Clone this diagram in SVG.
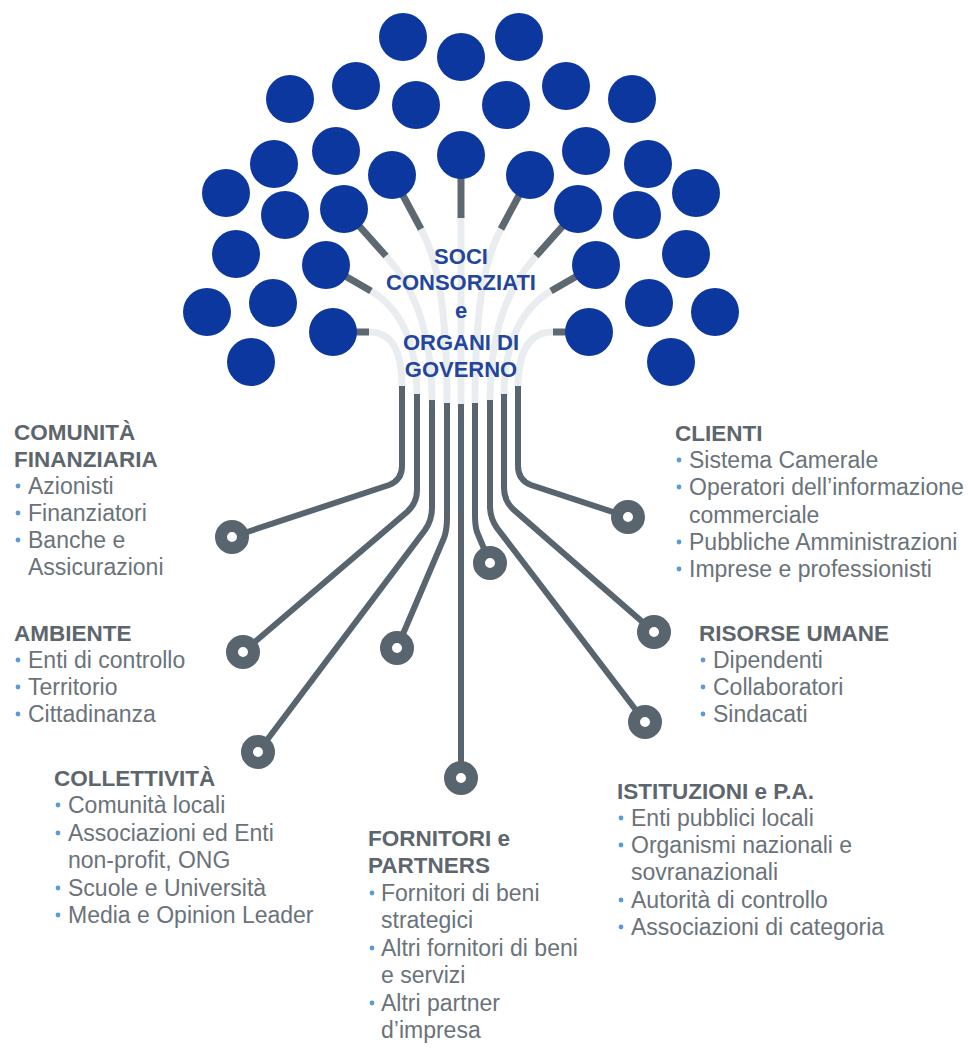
<svg xmlns="http://www.w3.org/2000/svg" width="968" height="1048" viewBox="0 0 968 1048">
<style>
.bg{fill:#ffffff}
.leaf{fill:#0b379e}
.light{fill:none;stroke:#eaedf0;stroke-width:7}
.stem{fill:none;stroke:#5d6871;stroke-width:7}
.branch{fill:none;stroke:#58646e;stroke-width:6}
.ring{fill:#ffffff;stroke:#58646e;stroke-width:12}
.core{font-family:"Liberation Sans",Arial,sans-serif;font-weight:bold;font-size:22px;fill:#24459e;text-anchor:middle}
.title{font-family:"Liberation Sans",Arial,sans-serif;font-weight:bold;font-size:22.5px;fill:#5d666d}
.item{font-family:"Liberation Sans",Arial,sans-serif;font-size:23px;fill:#6a737a}
.bul{fill:#5b9bd5}
</style>
<rect class="bg" x="0" y="0" width="968" height="1048"/>
<g id="connectors">
  <path class="light" d="M369,332 C392,332 402,350 402,388"/>
  <path class="light" d="M371,291 C395,305 417,335 417,396"/>
  <path class="light" d="M386,256 C408,281 432,320 432,402"/>
  <path class="light" d="M421,229 C436,257 447,300 447,405"/>
  <path class="light" d="M461,218 V406"/>
  <path class="light" d="M501,229 C486,257 475,300 475,405"/>
  <path class="light" d="M536,256 C514,281 490,320 490,402"/>
  <path class="light" d="M551,291 C527,305 504,335 504,396"/>
  <path class="light" d="M553,332 C530,332 518,350 518,388"/>
  <path class="stem" d="M333,332 H369"/>
  <path class="stem" d="M326,265 L371,291"/>
  <path class="stem" d="M344,209 L386,256"/>
  <path class="stem" d="M392,175 L421,229"/>
  <path class="stem" d="M461,155 V218"/>
  <path class="stem" d="M530,175 L501,229"/>
  <path class="stem" d="M578,209 L536,256"/>
  <path class="stem" d="M596,265 L551,291"/>
  <path class="stem" d="M589,332 H553"/>
  <path class="branch" d="M402,386 V466 Q402,480 389,485 L232,537"/>
  <path class="branch" d="M417,394 V490 Q417,503 407,512 L243,652"/>
  <path class="branch" d="M432,400 V508 Q432,520 425,530 L258,752"/>
  <path class="branch" d="M447,403 V518 Q447,530 444,538 L397,648"/>
  <path class="branch" d="M461,404 V778"/>
  <path class="branch" d="M475,403 V515 Q475,526 477,532 L490,563"/>
  <path class="branch" d="M490,400 V506 Q490,518 497,528 L645,722"/>
  <path class="branch" d="M504,394 V488 Q504,501 514,510 L654,632"/>
  <path class="branch" d="M518,386 V466 Q518,480 531,485 L628,517"/>
</g>
<g id="canopy">
  <circle class="leaf" cx="461" cy="57" r="24"/>
  <circle class="leaf" cx="403" cy="37" r="24"/>
  <circle class="leaf" cx="519" cy="37" r="24"/>
  <circle class="leaf" cx="356" cy="86" r="24"/>
  <circle class="leaf" cx="566" cy="86" r="24"/>
  <circle class="leaf" cx="416" cy="105" r="24"/>
  <circle class="leaf" cx="506" cy="105" r="24"/>
  <circle class="leaf" cx="290" cy="99" r="24"/>
  <circle class="leaf" cx="632" cy="99" r="24"/>
  <circle class="leaf" cx="336" cy="151" r="24"/>
  <circle class="leaf" cx="586" cy="151" r="24"/>
  <circle class="leaf" cx="274" cy="164" r="24"/>
  <circle class="leaf" cx="648" cy="164" r="24"/>
  <circle class="leaf" cx="392" cy="175" r="24"/>
  <circle class="leaf" cx="530" cy="175" r="24"/>
  <circle class="leaf" cx="461" cy="155" r="24"/>
  <circle class="leaf" cx="226" cy="193" r="24"/>
  <circle class="leaf" cx="696" cy="193" r="24"/>
  <circle class="leaf" cx="285" cy="215" r="24"/>
  <circle class="leaf" cx="637" cy="215" r="24"/>
  <circle class="leaf" cx="344" cy="209" r="24"/>
  <circle class="leaf" cx="578" cy="209" r="24"/>
  <circle class="leaf" cx="236" cy="254" r="24"/>
  <circle class="leaf" cx="686" cy="254" r="24"/>
  <circle class="leaf" cx="326" cy="265" r="24"/>
  <circle class="leaf" cx="596" cy="265" r="24"/>
  <circle class="leaf" cx="207" cy="312" r="24"/>
  <circle class="leaf" cx="715" cy="312" r="24"/>
  <circle class="leaf" cx="273" cy="303" r="24"/>
  <circle class="leaf" cx="649" cy="303" r="24"/>
  <circle class="leaf" cx="333" cy="332" r="24"/>
  <circle class="leaf" cx="589" cy="332" r="24"/>
  <circle class="leaf" cx="251" cy="362" r="24"/>
  <circle class="leaf" cx="671" cy="362" r="24"/>
</g>
<g id="core">
  <text class="core" x="461" y="264">SOCI</text>
  <text class="core" x="461" y="290">CONSORZIATI</text>
  <text class="core" x="461" y="318">e</text>
  <text class="core" x="461" y="350">ORGANI DI</text>
  <text class="core" x="461" y="377">GOVERNO</text>
</g>
<g id="rings">
  <circle class="ring" cx="232" cy="537" r="11"/>
  <circle class="ring" cx="243" cy="652" r="11"/>
  <circle class="ring" cx="258" cy="752" r="11"/>
  <circle class="ring" cx="397" cy="648" r="11"/>
  <circle class="ring" cx="461" cy="778" r="11"/>
  <circle class="ring" cx="490" cy="563" r="11"/>
  <circle class="ring" cx="628" cy="517" r="11"/>
  <circle class="ring" cx="654" cy="632" r="11"/>
  <circle class="ring" cx="645" cy="722" r="11"/>
</g>
<g id="comunita-finanziaria">
  <text class="title" x="14" y="440">COMUNITÀ</text>
  <text class="title" x="14" y="467">FINANZIARIA</text>
  <circle class="bul" cx="18" cy="486" r="2.4"/><text class="item" x="28" y="494">Azionisti</text>
  <circle class="bul" cx="18" cy="513" r="2.4"/><text class="item" x="28" y="521">Finanziatori</text>
  <circle class="bul" cx="18" cy="540" r="2.4"/><text class="item" x="28" y="548">Banche e</text>
  <text class="item" x="28" y="575">Assicurazioni</text>
</g>
<g id="ambiente">
  <text class="title" x="14" y="641">AMBIENTE</text>
  <circle class="bul" cx="18" cy="660" r="2.4"/><text class="item" x="28" y="668">Enti di controllo</text>
  <circle class="bul" cx="18" cy="687" r="2.4"/><text class="item" x="28" y="695">Territorio</text>
  <circle class="bul" cx="18" cy="714" r="2.4"/><text class="item" x="28" y="722">Cittadinanza</text>
</g>
<g id="collettivita">
  <text class="title" x="54" y="786">COLLETTIVITÀ</text>
  <circle class="bul" cx="58" cy="805" r="2.4"/><text class="item" x="68" y="813">Comunità locali</text>
  <circle class="bul" cx="58" cy="833" r="2.4"/><text class="item" x="68" y="841">Associazioni ed Enti</text>
  <text class="item" x="68" y="868">non-profit, ONG</text>
  <circle class="bul" cx="58" cy="888" r="2.4"/><text class="item" x="68" y="896">Scuole e Università</text>
  <circle class="bul" cx="58" cy="915" r="2.4"/><text class="item" x="68" y="923">Media e Opinion Leader</text>
</g>
<g id="fornitori">
  <text class="title" x="368" y="846">FORNITORI e</text>
  <text class="title" x="368" y="873">PARTNERS</text>
  <circle class="bul" cx="372" cy="893" r="2.4"/><text class="item" x="381" y="901">Fornitori di beni</text>
  <text class="item" x="381" y="928">strategici</text>
  <circle class="bul" cx="372" cy="948" r="2.4"/><text class="item" x="381" y="956">Altri fornitori di beni</text>
  <text class="item" x="381" y="983">e servizi</text>
  <circle class="bul" cx="372" cy="1003" r="2.4"/><text class="item" x="381" y="1011">Altri partner</text>
  <text class="item" x="381" y="1038">d’impresa</text>
</g>
<g id="clienti">
  <text class="title" x="675" y="441">CLIENTI</text>
  <circle class="bul" cx="679" cy="460" r="2.4"/><text class="item" x="689" y="468">Sistema Camerale</text>
  <circle class="bul" cx="679" cy="487" r="2.4"/><text class="item" x="689" y="495">Operatori dell’informazione</text>
  <text class="item" x="689" y="523">commerciale</text>
  <circle class="bul" cx="679" cy="542" r="2.4"/><text class="item" x="689" y="550">Pubbliche Amministrazioni</text>
  <circle class="bul" cx="679" cy="569" r="2.4"/><text class="item" x="689" y="577">Imprese e professionisti</text>
</g>
<g id="risorse-umane">
  <text class="title" x="699" y="641">RISORSE UMANE</text>
  <circle class="bul" cx="703" cy="660" r="2.4"/><text class="item" x="713" y="668">Dipendenti</text>
  <circle class="bul" cx="703" cy="687" r="2.4"/><text class="item" x="713" y="695">Collaboratori</text>
  <circle class="bul" cx="703" cy="714" r="2.4"/><text class="item" x="713" y="722">Sindacati</text>
</g>
<g id="istituzioni">
  <text class="title" x="617" y="799">ISTITUZIONI e P.A.</text>
  <circle class="bul" cx="621" cy="818" r="2.4"/><text class="item" x="631" y="826">Enti pubblici locali</text>
  <circle class="bul" cx="621" cy="845" r="2.4"/><text class="item" x="631" y="853">Organismi nazionali e</text>
  <text class="item" x="631" y="880">sovranazionali</text>
  <circle class="bul" cx="621" cy="900" r="2.4"/><text class="item" x="631" y="908">Autorità di controllo</text>
  <circle class="bul" cx="621" cy="927" r="2.4"/><text class="item" x="631" y="935">Associazioni di categoria</text>
</g>
</svg>
